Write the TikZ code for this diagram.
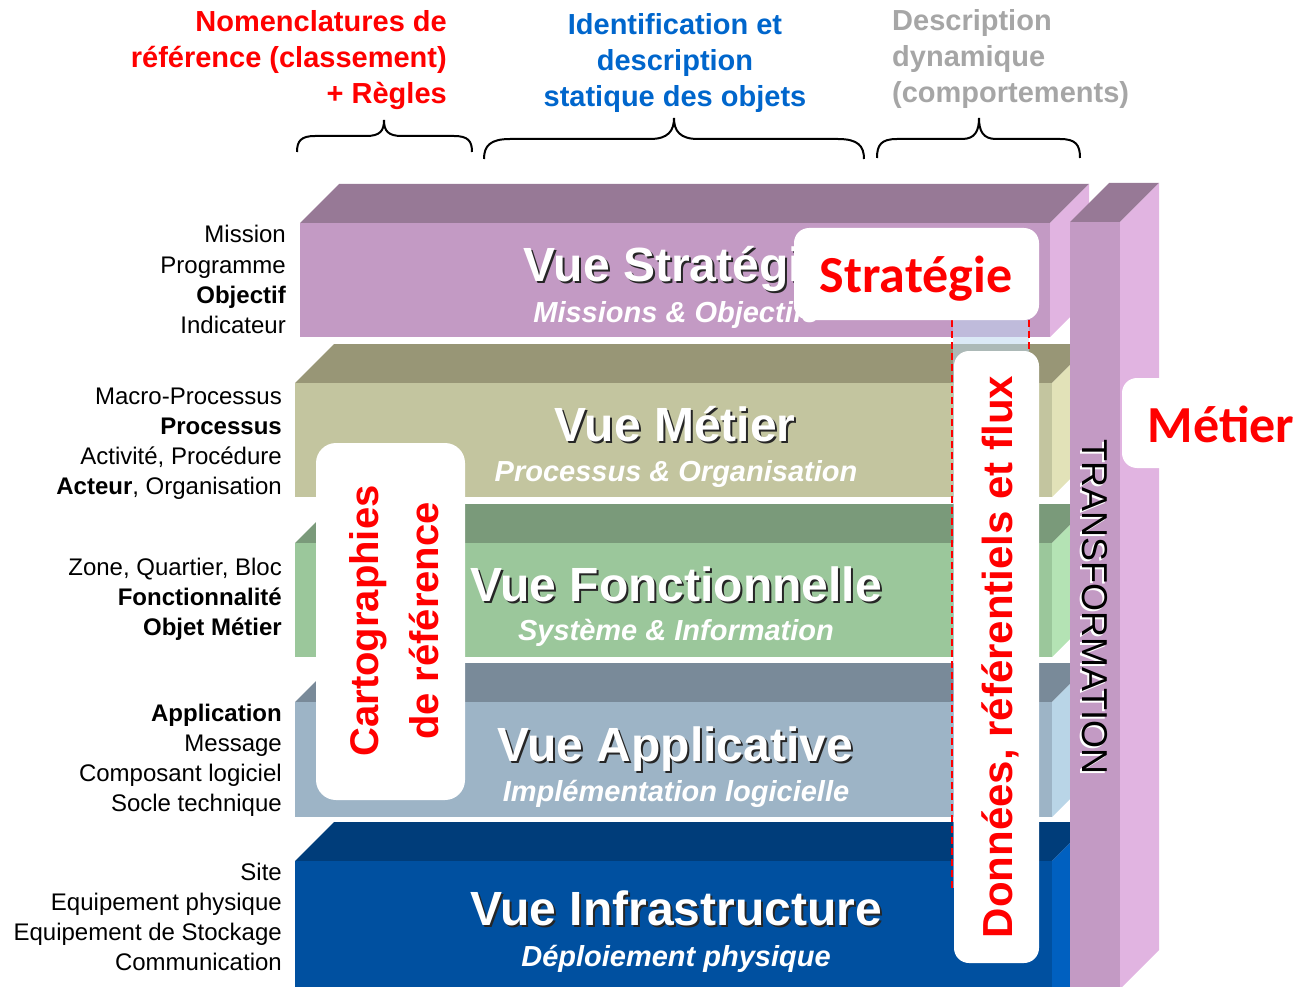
\documentclass[tikz,border=0pt]{standalone}
\usepackage{fontspec}
\setmainfont{Liberation Sans}
\newfontfamily\calib{Carlito}
\definecolor{sTop}{RGB}{151,121,150}
\definecolor{sFront}{RGB}{195,154,196}
\definecolor{sSide}{RGB}{225,180,225}
\definecolor{mTop}{RGB}{152,150,118}
\definecolor{mFront}{RGB}{195,197,159}
\definecolor{mSide}{RGB}{226,226,184}
\definecolor{fTop}{RGB}{122,154,122}
\definecolor{fFront}{RGB}{155,199,155}
\definecolor{fSide}{RGB}{180,227,180}
\definecolor{aTop}{RGB}{121,138,153}
\definecolor{aFront}{RGB}{157,180,198}
\definecolor{aSide}{RGB}{185,213,231}
\definecolor{iTop}{RGB}{0,61,122}
\definecolor{iFront}{RGB}{0,80,160}
\definecolor{iSide}{RGB}{0,96,192}
\definecolor{hBlue}{RGB}{0,102,204}
\definecolor{hGray}{RGB}{166,166,166}
\definecolor{hRed}{RGB}{255,0,0}
\definecolor{zone}{RGB}{189,215,238}
\newcommand{\drawslab}[7]{%
  \fill[#5] (#1,#3) -- (#1+39,#3-39) -- (#2+39,#3-39) -- (#2,#3) -- cycle;
  \fill[#6] (#1,#3) rectangle (#2,#4);
  \fill[#7] (#2,#3) -- (#2+39,#3-39) -- (#2+39,#4-39) -- (#2,#4) -- cycle;
}
\tikzset{
  lst/.style={anchor=base east, inner sep=0pt, font=\fontsize{24}{24}\selectfont},
  hdr/.style={inner sep=0pt, font=\fontsize{29}{29}\selectfont\bfseries},
  ttl/.style={anchor=base, inner sep=0pt, font=\fontsize{48}{48}\selectfont\bfseries},
  ttlshadow/.style={ttl, text=black!85},
  ttlfront/.style={ttl, text=white},
  subt/.style={anchor=base, inner sep=0pt, text=white, font=\fontsize{29}{29}\selectfont\bfseries\itshape},
  wbox/.style={fill=white, rounded corners=15pt},
  bracestyle/.style={line width=2pt, black},
  redbig/.style={inner sep=0pt, text=hRed, font=\fontsize{40}{40}\selectfont\bfseries},
  calbig/.style={anchor=base, inner sep=0pt, text=hRed, font=\calib\fontsize{52}{52}\selectfont\bfseries},
  reddash/.style={hRed, line width=1.4pt, dash pattern=on 7pt off 4pt},
}
\begin{document}
\begin{tikzpicture}[x=1pt,y=-1pt]
\useasboundingbox (0,0) rectangle (1301,987);
\begin{scope}
\clip (0,0) rectangle (1301,987);
% slabs
\drawslab{300}{1050}{223}{337}{sTop}{sFront}{sSide}
\drawslab{295}{1052}{383}{497}{mTop}{mFront}{mSide}
\drawslab{295}{1052}{543}{657}{fTop}{fFront}{fSide}
\drawslab{295}{1052}{702}{817}{aTop}{aFront}{aSide}
\drawslab{295}{1052}{861}{1010}{iTop}{iFront}{iSide}
% titles
\node[ttlshadow] (t1s) at (678,283) {Vue Stratégie};
\node[ttlfront]  (t1)  at (676,281) {Vue Stratégie};
\node[subt] (s1) at (676,322) {Missions \& Objectifs};
\node[ttlshadow] (t2s) at (677,443) {Vue Métier};
\node[ttlfront]  (t2)  at (675,441) {Vue Métier};
\node[subt] (s2) at (676,481) {Processus \& Organisation};
\node[ttlshadow] (t3s) at (678,603) {Vue Fonctionnelle};
\node[ttlfront]  (t3)  at (676,601) {Vue Fonctionnelle};
\node[subt] (s3) at (676,640) {Système \& Information};
\node[ttlshadow] (t4s) at (677,763) {Vue Applicative};
\node[ttlfront]  (t4)  at (675,761) {Vue Applicative};
\node[subt] (s4) at (676,801) {Implémentation logicielle};
\node[ttlshadow] (t5s) at (678,927) {Vue Infrastructure};
\node[ttlfront]  (t5)  at (676,925) {Vue Infrastructure};
\node[subt] (s5) at (676,966) {Déploiement physique};
% transformation column
\fill[sTop] (1070,222) -- (1109,183) -- (1159,183) -- (1120,222) -- cycle;
\fill[sFront] (1070,222) rectangle (1120,1000);
\fill[sSide] (1120,222) -- (1159,183) -- (1159,950) -- (1120,989) -- cycle;
\node[rotate=-90, anchor=base, inner sep=0pt, text=white, font=\fontsize{36}{36}\selectfont] (trs) at (1080,609) {TRANSFORMATION};
\node[rotate=-90, anchor=base, inner sep=0pt, text=black, font=\fontsize{36}{36}\selectfont] (tr) at (1082,607) {TRANSFORMATION};
% data zone
\fill[zone, opacity=0.55] (953,320) rectangle (1029,888);
\draw[reddash] (952,320) -- (952,888);
\draw[reddash] (1029,320) -- (1029,352);
% white boxes
\fill[wbox] (794,228) rectangle (1039,320);
\fill[wbox] (954,351) rectangle (1039,963);
\fill[wbox, rounded corners=20pt] (316,443) rectangle (465,800);
\fill[wbox] (1122,378) rectangle (1340,468);
\node[calbig] (strat) at (916,292) {Stratégie};
\node[calbig] (metier) at (1221,442) {Métier};
\node[redbig, rotate=90, anchor=base] (carto1) at (378,621) {Cartographies};
\node[redbig, rotate=90, anchor=base] (carto2) at (438,621) {de référence};
\node[redbig, rotate=90, anchor=base, font=\fontsize{42}{42}\selectfont\bfseries] (donnees) at (1012,657) {Données, référentiels et flux};
\end{scope}
% left lists
\node[lst] (l11) at (286,243) {Mission};
\node[lst] (l12) at (286,273) {Programme};
\node[lst] (l13) at (286,303) {\textbf{Objectif}};
\node[lst] (l14) at (286,333) {Indicateur};
\node[lst] (l21) at (282,404) {Macro-Processus};
\node[lst] (l22) at (282,434) {\textbf{Processus}};
\node[lst] (l23) at (282,464) {Activité, Procédure};
\node[lst] (l24) at (282,494) {\textbf{Acteur}, Organisation};
\node[lst] (l31) at (282,575) {Zone, Quartier, Bloc};
\node[lst] (l32) at (282,605) {\textbf{Fonctionnalité}};
\node[lst] (l33) at (282,635) {\textbf{Objet Métier}};
\node[lst] (l41) at (282,721) {\textbf{Application}};
\node[lst] (l42) at (282,751) {Message};
\node[lst] (l43) at (282,781) {Composant logiciel};
\node[lst] (l44) at (282,811) {Socle technique};
\node[lst] (l51) at (282,880) {Site};
\node[lst] (l52) at (282,910) {Equipement physique};
\node[lst] (l53) at (282,940) {Equipement de Stockage};
\node[lst] (l54) at (282,970) {Communication};
% headers
\node[hdr, anchor=base east, text=hRed] (h11) at (447,32) {Nomenclatures de};
\node[hdr, anchor=base east, text=hRed] (h12) at (447,68) {référence (classement)};
\node[hdr, anchor=base east, text=hRed] (h13) at (447,104) {+ Règles};
\node[hdr, anchor=base, text=hBlue] (h21) at (675,35) {Identification et};
\node[hdr, anchor=base, text=hBlue] (h22) at (675,71) {description};
\node[hdr, anchor=base, text=hBlue] (h23) at (675,107) {statique des objets};
\node[hdr, anchor=base west, text=hGray] (h31) at (892,31) {Description};
\node[hdr, anchor=base west, text=hGray] (h32) at (892,67) {dynamique};
\node[hdr, anchor=base west, text=hGray] (h33) at (892,103) {(comportements)};
% braces
\draw[bracestyle] (297,152) .. controls (297,141) and (301,136) .. (315,136) -- (366,136) .. controls (380,136) and (384,131) .. (384,120) .. controls (384,131) and (388,136) .. (402,136) -- (454,136) .. controls (468,136) and (472,141) .. (472,152);
\draw[bracestyle] (484,159) .. controls (484,146) and (490,139) .. (510,139) -- (650,139) .. controls (668,139) and (674,131) .. (674,118) .. controls (674,131) and (680,139) .. (698,139) -- (838,139) .. controls (858,139) and (864,146) .. (864,159);
\draw[bracestyle] (877,158) .. controls (877,145) and (881,139) .. (897,139) -- (962,139) .. controls (975,139) and (979,131) .. (979,118) .. controls (979,131) and (983,139) .. (996,139) -- (1060,139) .. controls (1076,139) and (1080,145) .. (1080,158);
\end{tikzpicture}
\end{document}
